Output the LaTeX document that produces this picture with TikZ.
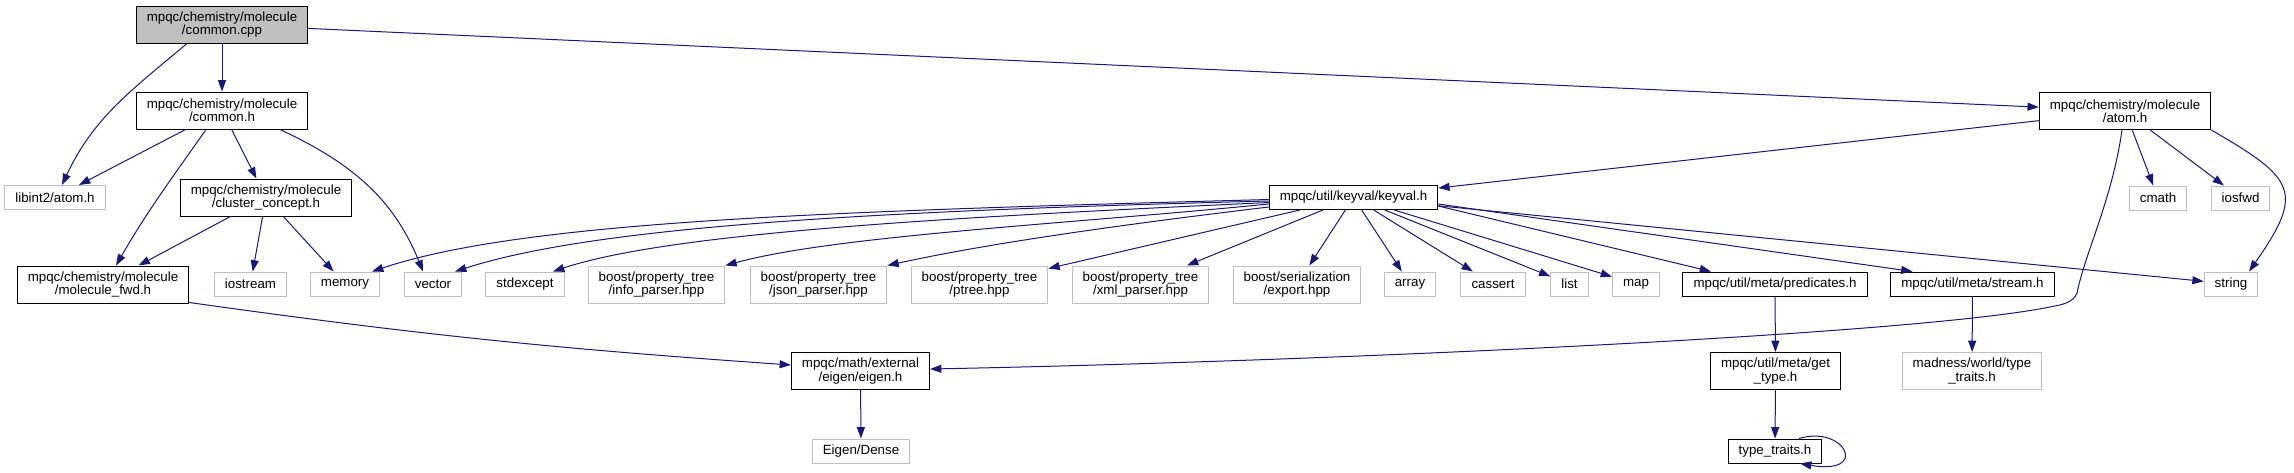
\documentclass[tikz,border=0pt]{standalone}
\usepackage{fontspec}
\setmainfont{Liberation Sans}
\usetikzlibrary{arrows.meta,calc}

\definecolor{azulflecha}{HTML}{191970}
\definecolor{grisborde}{HTML}{BFBFBF}

\begin{document}
\begin{tikzpicture}[x=0.75pt,y=0.75pt,
  archivo/.style={rectangle,draw=black,line width=0.75pt,fill=white,
    font=\fontsize{10}{10}\selectfont,align=center,
    inner xsep=7.9pt,inner ysep=2pt,minimum height=18pt},
  doble/.style={minimum height=27.75pt},
  externo/.style={archivo,draw=grisborde},
  actual/.style={archivo,fill=grisborde},
  flecha/.style={draw=azulflecha,line width=0.75pt,-{Triangle[length=8.5pt,width=6pt]}}]
  \useasboundingbox (0,0) rectangle (2294,-472);

  % Archivo actual y cabeceras de primer nivel
  \node[actual,doble] (cpp) at (222,-24.5) {mpqc/chemistry/molecule\\/common.cpp};
  \node[archivo,doble] (ch) at (222,-110.5) {mpqc/chemistry/molecule\\/common.h};
  \node[archivo,doble] (atom) at (2125,-111) {mpqc/chemistry/molecule\\/atom.h};

  % Segundo nivel
  \node[externo] (lib) at (55,-197.5) {libint2/atom.h};
  \node[archivo,doble] (cc) at (266,-197.5) {mpqc/chemistry/molecule\\/cluster\_concept.h};
  \node[archivo] (kv) at (1353.5,-197.5) {mpqc/util/keyval/keyval.h};
  \node[externo] (cmath) at (2158,-198) {cmath};
  \node[externo] (iosfwd) at (2240.5,-198) {iosfwd};

  % Tercer nivel
  \node[archivo,doble] (fwd) at (103,-284.5) {mpqc/chemistry/molecule\\/molecule\_fwd.h};
  \node[externo] (ios) at (250.5,-284) {iostream};
  \node[externo] (mem) at (345,-284) {memory};
  \node[externo] (vec) at (433,-284) {vector};
  \node[externo] (stdex) at (525,-284) {stdexcept};
  \node[externo,doble] (info) at (656.5,-284.5) {boost/property\_tree\\/info\_parser.hpp};
  \node[externo,doble] (json) at (818.5,-284.5) {boost/property\_tree\\/json\_parser.hpp};
  \node[externo,doble] (ptree) at (979.5,-284.5) {boost/property\_tree\\/ptree.hpp};
  \node[externo,doble] (xml) at (1140.5,-284.5) {boost/property\_tree\\/xml\_parser.hpp};
  \node[externo,doble] (export) at (1297,-284.5) {boost/serialization\\/export.hpp};
  \node[externo] (array) at (1410,-284) {array};
  \node[externo] (cassert) at (1493,-284) {cassert};
  \node[externo] (list) at (1569.5,-284) {list};
  \node[externo] (map) at (1636,-284) {map};
  \node[archivo] (pred) at (1775,-284) {mpqc/util/meta/predicates.h};
  \node[archivo] (stream) at (1972.5,-284) {mpqc/util/meta/stream.h};
  \node[externo] (string) at (2231,-284) {string};

  % Niveles inferiores
  \node[archivo,doble] (eigen) at (860.5,-371) {mpqc/math/external\\/eigen/eigen.h};
  \node[archivo,doble] (gettype) at (1775.5,-371) {mpqc/util/meta/get\\\_type.h};
  \node[externo,doble] (madness) at (1972,-371) {madness/world/type\\\_traits.h};
  \node[externo] (dense) at (861,-451) {Eigen/Dense};
  \node[archivo] (tt) at (1775,-451) {type\_traits.h};

  % Aristas rectas entre centros
  \foreach \desde/\hasta in {cpp/ch, cpp/atom, ch/lib, ch/cc, cc/fwd, cc/ios, cc/mem,
      atom/kv, atom/cmath, atom/iosfwd, kv/ptree, kv/xml, kv/export, kv/array,
      kv/cassert, kv/list, kv/map, kv/string, pred/gettype, stream/madness,
      gettype/tt, eigen/dense}
    \draw[flecha] (\desde) -- (\hasta);

  % Aristas curvas
  \draw[flecha] ($(cpp.south)+(-35,0)$) to[out=-140,in=65] ($(lib.north)+(7,0)$);
  \draw[flecha] ($(ch.south)+(-16,0)$) to[out=-125,in=60] ($(fwd.north)+(13,0)$);
  \draw[flecha] ($(ch.south)+(58,0)$) to[out=-25,in=112] ($(vec.north)+(-10,0)$);
  \draw[flecha] ($(fwd.south east)+(0,1)$) to[out=-8,in=176] ($(eigen.west)+(0,6)$);
  \draw[flecha] (atom.south east) to[out=-30,in=55,looseness=1.7] ($(string.north)+(18,0)$);

  % De atom.h hasta eigen.h, con un codo redondeado
  \coordinate (codo1) at (2077,-293);
  \coordinate (codo2) at (2050,-307);
  \draw[flecha] ($(atom.south)+(-3,0)$) .. controls +(-10,-70) and +(8,40) .. (codo1)
    .. controls +(-4,-10) and +(12,2.4) .. (codo2)
    .. controls +(-140,-28) and +(400,8) .. ($(eigen.east)+(0,2)$);

  % Desde keyval.h hacia la izquierda
  \draw[flecha] ($(kv.west)+(0,-2)$) .. controls +(-450,-12) and +(150,50) .. ($(mem.north)+(27,0)$);
  \draw[flecha] ($(kv.west)+(0,-3.5)$) .. controls +(-400,-10) and +(140,45) .. ($(vec.north)+(22,0)$);
  \draw[flecha] ($(kv.west)+(0,-5)$) .. controls +(-300,-14) and +(120,40) .. ($(stdex.north)+(28,0)$);
  \draw[flecha] ($(kv.west)+(0,-6.5)$) .. controls +(-200,-20) and +(110,30) .. (info.north east);
  \draw[flecha] ($(kv.west)+(0,-9.5)$) .. controls +(-150,-18) and +(100,22) .. (json.north east);

  % Desde keyval.h hacia la derecha
  \draw[flecha] ($(kv.south east)+(0,4)$) -- ($(pred.north)+(-64,0)$);
  \draw[flecha] ($(kv.south east)+(0,6)$) -- ($(stream.north)+(-60,0)$);

  % Bucle sobre type_traits.h
  \draw[flecha] ($(tt.north)+(24,0)$) .. controls +(46,14) and +(70,-12) .. ($(tt.south)+(25,0)$);
\end{tikzpicture}
\end{document}
